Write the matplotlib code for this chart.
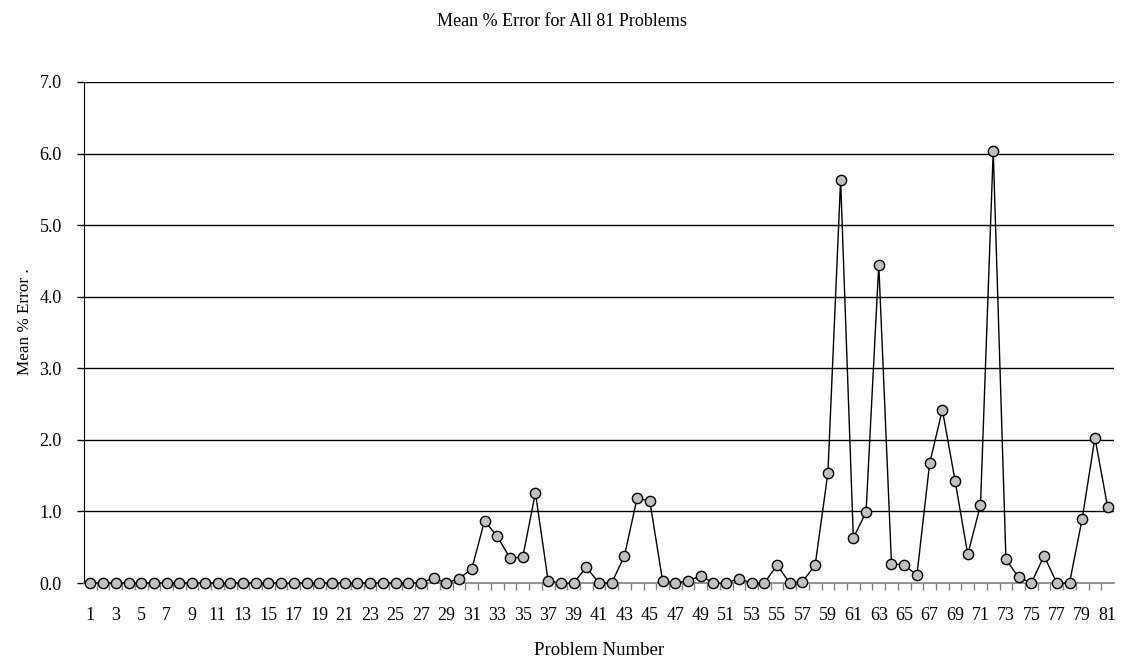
import numpy as np
import matplotlib
matplotlib.use("Agg")
import matplotlib.pyplot as plt
from matplotlib.ticker import FixedLocator, FormatStrFormatter

plt.rcParams['font.family'] = ['Liberation Serif', 'DejaVu Serif']

# mean % error per problem, problems 1..81
problems = list(range(1, 82))
err_1_27 = [0.0] * 27
err_28_50 = [0.07, 0.0, 0.06, 0.20, 0.87, 0.65, 0.35, 0.36, 1.26, 0.03,
             0.0, 0.0, 0.22, 0.0, 0.0, 0.38, 1.19, 1.14, 0.03, 0.0,
             0.03, 0.10, 0.0]
err_51_81 = [0.0, 0.06, 0.0, 0.0, 0.25, 0.0, 0.02, 0.25, 1.54, 5.63,
             0.63, 0.99, 4.45, 0.27, 0.25, 0.11, 1.67, 2.42, 1.43, 0.40,
             1.09, 6.04, 0.33, 0.08, 0.0, 0.38, 0.0, 0.0, 0.90, 2.03,
             1.06]
mean_err = err_1_27 + err_28_50 + err_51_81

fig = plt.figure(figsize=(11.23, 6.65), dpi=100)
ax = fig.add_axes([0.0748, 0.1233, 0.9172, 0.7534])

ax.plot(problems, mean_err, color='black', lw=1.0, marker='o',
        markersize=7.4, markerfacecolor='#c0c0c0', markeredgecolor='black',
        markeredgewidth=1.0, zorder=3, clip_on=False)

ax.set_xlim(0.5, 81.5)
ax.set_ylim(0, 7)

# horizontal grid lines
for v in range(1, 8):
    ax.axhline(v, color='black', lw=1.0, zorder=1)

ax.spines['top'].set_visible(False)
ax.spines['right'].set_visible(False)
ax.spines['left'].set_color('black')
ax.spines['bottom'].set_color('#808080')
ax.spines['bottom'].set_linewidth(1.2)

ax.set_yticks(np.arange(0, 8, 1))
ax.yaxis.set_major_formatter(FormatStrFormatter('%.1f'))
ax.tick_params(axis='y', direction='out', length=5, width=1, color='black',
               labelsize=13, pad=11)

ax.set_xticks(problems[::2])
ax.set_xticklabels([str(p) for p in problems[::2]])
ax.xaxis.set_minor_locator(FixedLocator(np.arange(1.5, 81.5, 1)))
ax.tick_params(axis='x', which='major', length=0, labelsize=13, pad=17)
ax.tick_params(axis='x', which='minor', direction='out', length=5,
               width=1, color='#808080')

ax.set_ylabel('Mean % Error .', fontsize=12.3)
ax.yaxis.set_label_coords(-0.0495, 0.521)
ax.set_xlabel('Problem Number', fontsize=13.5, labelpad=13)
fig.text(0.5, 0.968, 'Mean % Error for All 81 Problems', ha='center',
         va='center', fontsize=13)

fig.savefig('out.png', dpi=100)
